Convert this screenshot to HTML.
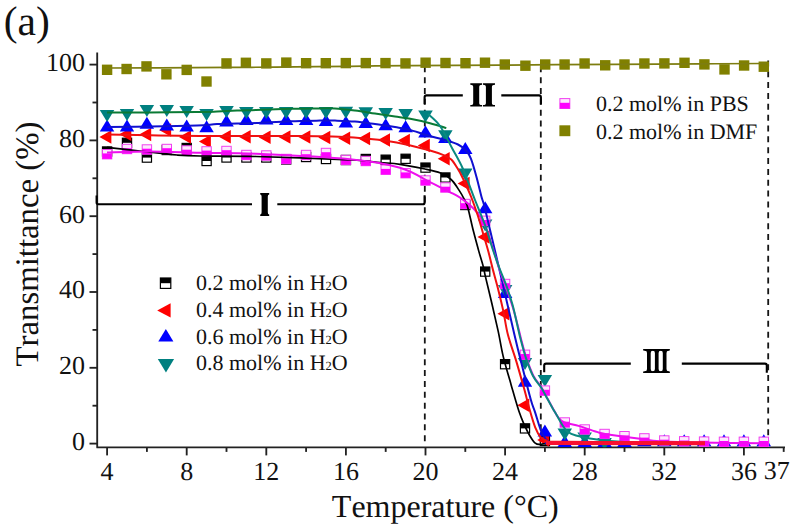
<!DOCTYPE html>
<html><head><meta charset="utf-8"><style>
html,body{margin:0;padding:0;background:#fff;}
body{width:796px;height:531px;overflow:hidden;position:relative;font-family:"Liberation Serif",serif;color:#111;}
svg{position:absolute;left:0;top:0;font-kerning:none;text-rendering:geometricPrecision;}
text{font-kerning:none;}
.t{position:absolute;white-space:nowrap;line-height:1;}
</style></head><body>
<svg width="796" height="531" viewBox="0 0 796 531">
<g font-family="Liberation Serif" fill="#111">
<text x="3.8" y="34.6" font-size="41.5">(a)</text>
<g font-size="26" text-anchor="end">
<text x="85" y="71">100</text>
<text x="85" y="146.8">80</text>
<text x="85" y="222.6">60</text>
<text x="85" y="298.4">40</text>
<text x="85" y="374.2">20</text>
<text x="85" y="450">0</text>
</g>
<g font-size="26" text-anchor="middle">
<text x="107.1" y="480.3">4</text>
<text x="186.7" y="480.3">8</text>
<text x="266.3" y="480.3">12</text>
<text x="345.9" y="480.3">16</text>
<text x="425.5" y="480.3">20</text>
<text x="505.1" y="480.3">24</text>
<text x="584.7" y="480.3">28</text>
<text x="664.3" y="480.3">32</text>
<text x="744" y="480.3">36</text>
<text x="776.7" y="478.6">37</text>
</g>
<text x="445.3" y="517" font-size="32" text-anchor="middle">Temperature (°C)</text>
<text transform="translate(37.7,244) rotate(-90)" font-size="32.8" text-anchor="middle">Transmittance (%)</text>
<g font-size="22">
<text x="596" y="111.3">0.2 mol% in PBS</text>
<text x="596" y="138.6">0.2 mol% in DMF</text>
<text x="196" y="290.1">0.2 mol% in H<tspan font-size="12.5">2</tspan>O</text>
<text x="196" y="316.8">0.4 mol% in H<tspan font-size="12.5">2</tspan>O</text>
<text x="196" y="343.5">0.6 mol% in H<tspan font-size="12.5">2</tspan>O</text>
<text x="196" y="370.2">0.8 mol% in H<tspan font-size="12.5">2</tspan>O</text>
</g>
</g>
<g stroke="#222" stroke-width="1.85" fill="none" stroke-linejoin="round">
<path d="M97.2,52.5 V447.4 H785"/>
<path d="M89.5,443.6 H97"/>
<path d="M89.5,367.8 H97"/>
<path d="M89.5,292.0 H97"/>
<path d="M89.5,216.2 H97"/>
<path d="M89.5,140.4 H97"/>
<path d="M89.5,64.6 H97"/>
<path d="M92.5,405.7 H97"/>
<path d="M92.5,329.9 H97"/>
<path d="M92.5,254.1 H97"/>
<path d="M92.5,178.3 H97"/>
<path d="M92.5,102.5 H97"/>
<path d="M107.1,447.4 V455.4"/>
<path d="M146.9,447.4 V451.9"/>
<path d="M186.7,447.4 V455.4"/>
<path d="M226.5,447.4 V451.9"/>
<path d="M266.3,447.4 V455.4"/>
<path d="M306.1,447.4 V451.9"/>
<path d="M345.9,447.4 V455.4"/>
<path d="M385.7,447.4 V451.9"/>
<path d="M425.5,447.4 V455.4"/>
<path d="M465.3,447.4 V451.9"/>
<path d="M505.1,447.4 V455.4"/>
<path d="M544.9,447.4 V451.9"/>
<path d="M584.7,447.4 V455.4"/>
<path d="M624.5,447.4 V451.9"/>
<path d="M664.3,447.4 V455.4"/>
<path d="M704.1,447.4 V451.9"/>
<path d="M743.9,447.4 V455.4"/>
<path d="M783.7,447.4 V451.9"/>
</g>
<g stroke="#151515" stroke-width="1.8" stroke-dasharray="6,4.85" fill="none">
<path d="M424.8,66.3 V446"/>
<path d="M540.8,66.3 V446"/>
<path d="M768.2,60.4 V446"/>
</g>
<g stroke="#000" stroke-width="2.1" fill="none">
<path d="M96.6,195.5 V202.5 Q96.6,204.2 98.5,204.2 H252"/><path d="M277.3,204.2 H422.8 Q424.6,204.2 424.6,202.4 V195.2"/>
<path d="M424.6,104.2 V97.3 Q424.6,95.4 426.5,95.4 H462.8"/><path d="M501.3,95.4 H539 Q540.9,95.4 540.9,97.3 V104.4"/>
<path d="M544.2,372.3 V365.5 Q544.2,363.6 546.1,363.6 H630.8"/><path d="M681.8,363.6 H764.9 Q766.8,363.6 766.8,365.5 V372.7"/>
</g>
<path d="M260.2,192.9 H269.2 V194.4 Q267.8,194.4 267.8,196.6 V212.20000000000002 Q267.8,214.4 269.2,214.4 V215.9 H260.2 V214.4 Q261.6,214.4 261.6,212.20000000000002 V196.6 Q261.6,194.4 260.2,194.4 Z" fill="#000"/>
<path d="M470.3,83.2 H482.1 V84.7 Q479.2,84.7 479.2,86.9 V102.89999999999999 Q479.2,105.1 482.1,105.1 V106.6 H470.3 V105.1 Q473.2,105.1 473.2,102.89999999999999 V86.9 Q473.2,84.7 470.3,84.7 Z" fill="#000"/>
<path d="M483.0,83.2 H495.0 V84.7 Q491.9,84.7 491.9,86.9 V102.89999999999999 Q491.9,105.1 495.0,105.1 V106.6 H483.0 V105.1 Q485.9,105.1 485.9,102.89999999999999 V86.9 Q485.9,84.7 483.0,84.7 Z" fill="#000"/>
<path d="M643,349 H670 L669.5,350.7 H643.5 Z M643.5,371.3 H669.5 L670,373 H643 Z" fill="#000"/>
<path d="M645,349 H652.7 V350.7 Q650.7,350.7 650.7,352.9 V369.1 Q650.7,371.3 652.7,371.3 V373 H645 V371.3 Q647,371.3 647,369.1 V352.9 Q647,350.7 645,350.7 Z" fill="#000"/>
<path d="M652.9,349 H660.6 V350.7 Q658.6,350.7 658.6,352.9 V369.1 Q658.6,371.3 660.6,371.3 V373 H652.9 V371.3 Q654.9,371.3 654.9,369.1 V352.9 Q654.9,350.7 652.9,350.7 Z" fill="#000"/>
<path d="M660.8,349 H668.5 V350.7 Q666.5,350.7 666.5,352.9 V369.1 Q666.5,371.3 668.5,371.3 V373 H660.8 V371.3 Q662.8,371.3 662.8,369.1 V352.9 Q662.8,350.7 660.8,350.7 Z" fill="#000"/>
<defs><clipPath id="pa"><rect x="97" y="50" width="690" height="397.2"/></clipPath></defs>
<g clip-path="url(#pa)">
<rect x="102.5" y="146.9" width="9.2" height="9.2" fill="#fff" stroke="#000" stroke-width="1.2"/><rect x="102.5" y="146.9" width="9.2" height="4.6" fill="#000"/>
<rect x="122.4" y="138.2" width="9.2" height="9.2" fill="#fff" stroke="#000" stroke-width="1.2"/><rect x="122.4" y="138.2" width="9.2" height="4.6" fill="#000"/>
<rect x="142.3" y="153.0" width="9.2" height="9.2" fill="#fff" stroke="#000" stroke-width="1.2"/><rect x="142.3" y="153.0" width="9.2" height="4.6" fill="#000"/>
<rect x="162.2" y="145.4" width="9.2" height="9.2" fill="#fff" stroke="#000" stroke-width="1.2"/><rect x="162.2" y="145.4" width="9.2" height="4.6" fill="#000"/>
<rect x="182.1" y="143.4" width="9.2" height="9.2" fill="#fff" stroke="#000" stroke-width="1.2"/><rect x="182.1" y="143.4" width="9.2" height="4.6" fill="#000"/>
<rect x="202.0" y="156.4" width="9.2" height="9.2" fill="#fff" stroke="#000" stroke-width="1.2"/><rect x="202.0" y="156.4" width="9.2" height="4.6" fill="#000"/>
<rect x="221.9" y="152.9" width="9.2" height="9.2" fill="#fff" stroke="#000" stroke-width="1.2"/><rect x="221.9" y="152.9" width="9.2" height="4.6" fill="#000"/>
<rect x="241.8" y="152.9" width="9.2" height="9.2" fill="#fff" stroke="#000" stroke-width="1.2"/><rect x="241.8" y="152.9" width="9.2" height="4.6" fill="#000"/>
<rect x="261.7" y="152.9" width="9.2" height="9.2" fill="#fff" stroke="#000" stroke-width="1.2"/><rect x="261.7" y="152.9" width="9.2" height="4.6" fill="#000"/>
<rect x="281.6" y="154.9" width="9.2" height="9.2" fill="#fff" stroke="#000" stroke-width="1.2"/><rect x="281.6" y="154.9" width="9.2" height="4.6" fill="#000"/>
<rect x="301.5" y="152.4" width="9.2" height="9.2" fill="#fff" stroke="#000" stroke-width="1.2"/><rect x="301.5" y="152.4" width="9.2" height="4.6" fill="#000"/>
<rect x="321.4" y="154.4" width="9.2" height="9.2" fill="#fff" stroke="#000" stroke-width="1.2"/><rect x="321.4" y="154.4" width="9.2" height="4.6" fill="#000"/>
<rect x="341.3" y="155.4" width="9.2" height="9.2" fill="#fff" stroke="#000" stroke-width="1.2"/><rect x="341.3" y="155.4" width="9.2" height="4.6" fill="#000"/>
<rect x="361.2" y="154.4" width="9.2" height="9.2" fill="#fff" stroke="#000" stroke-width="1.2"/><rect x="361.2" y="154.4" width="9.2" height="4.6" fill="#000"/>
<rect x="381.1" y="155.1" width="9.2" height="9.2" fill="#fff" stroke="#000" stroke-width="1.2"/><rect x="381.1" y="155.1" width="9.2" height="4.6" fill="#000"/>
<rect x="401.0" y="154.2" width="9.2" height="9.2" fill="#fff" stroke="#000" stroke-width="1.2"/><rect x="401.0" y="154.2" width="9.2" height="4.6" fill="#000"/>
<rect x="420.9" y="163.0" width="9.2" height="9.2" fill="#fff" stroke="#000" stroke-width="1.2"/><rect x="420.9" y="163.0" width="9.2" height="4.6" fill="#000"/>
<rect x="440.8" y="172.9" width="9.2" height="9.2" fill="#fff" stroke="#000" stroke-width="1.2"/><rect x="440.8" y="172.9" width="9.2" height="4.6" fill="#000"/>
<rect x="460.7" y="200.4" width="9.2" height="9.2" fill="#fff" stroke="#000" stroke-width="1.2"/><rect x="460.7" y="200.4" width="9.2" height="4.6" fill="#000"/>
<rect x="480.6" y="267.0" width="9.2" height="9.2" fill="#fff" stroke="#000" stroke-width="1.2"/><rect x="480.6" y="267.0" width="9.2" height="4.6" fill="#000"/>
<rect x="500.5" y="359.6" width="9.2" height="9.2" fill="#fff" stroke="#000" stroke-width="1.2"/><rect x="500.5" y="359.6" width="9.2" height="4.6" fill="#000"/>
<rect x="520.4" y="423.8" width="9.2" height="9.2" fill="#fff" stroke="#000" stroke-width="1.2"/><rect x="520.4" y="423.8" width="9.2" height="4.6" fill="#000"/>
<rect x="540.3" y="436.4" width="9.2" height="9.2" fill="#fff" stroke="#000" stroke-width="1.2"/><rect x="540.3" y="436.4" width="9.2" height="4.6" fill="#000"/>
<polygon points="99.4,137.0 111.4,130.2 111.4,143.8" fill="#ff0000"/>
<polygon points="119.3,134.3 131.3,127.6 131.3,141.1" fill="#ff0000"/>
<polygon points="139.2,134.6 151.2,127.8 151.2,141.3" fill="#ff0000"/>
<polygon points="159.1,130.0 171.1,123.2 171.1,136.8" fill="#ff0000"/>
<polygon points="179.0,137.0 191.0,130.2 191.0,143.8" fill="#ff0000"/>
<polygon points="198.9,141.5 210.9,134.8 210.9,148.2" fill="#ff0000"/>
<polygon points="218.8,136.8 230.8,130.1 230.8,143.6" fill="#ff0000"/>
<polygon points="238.7,136.7 250.7,129.9 250.7,143.4" fill="#ff0000"/>
<polygon points="258.6,137.3 270.6,130.6 270.6,144.1" fill="#ff0000"/>
<polygon points="278.5,137.0 290.5,130.2 290.5,143.8" fill="#ff0000"/>
<polygon points="298.4,137.0 310.4,130.2 310.4,143.8" fill="#ff0000"/>
<polygon points="318.3,137.5 330.3,130.8 330.3,144.2" fill="#ff0000"/>
<polygon points="338.2,138.2 350.2,131.4 350.2,144.9" fill="#ff0000"/>
<polygon points="358.1,138.5 370.1,131.8 370.1,145.2" fill="#ff0000"/>
<polygon points="378.0,139.9 390.0,133.2 390.0,146.7" fill="#ff0000"/>
<polygon points="397.9,140.5 409.9,133.8 409.9,147.2" fill="#ff0000"/>
<polygon points="417.8,145.6 429.8,138.8 429.8,152.3" fill="#ff0000"/>
<polygon points="437.7,158.8 449.7,152.1 449.7,165.6" fill="#ff0000"/>
<polygon points="457.6,183.5 469.6,176.8 469.6,190.2" fill="#ff0000"/>
<polygon points="477.5,237.0 489.5,230.2 489.5,243.8" fill="#ff0000"/>
<polygon points="497.4,313.8 509.4,307.1 509.4,320.6" fill="#ff0000"/>
<polygon points="517.3,405.3 529.3,398.6 529.3,412.1" fill="#ff0000"/>
<polygon points="537.2,440.0 549.2,433.2 549.2,446.8" fill="#ff0000"/>
<polygon points="99.8,131.6 114.3,131.6 107.1,119.6" fill="#0000ff"/>
<polygon points="119.8,131.4 134.2,131.4 127.0,119.4" fill="#0000ff"/>
<polygon points="139.6,128.7 154.1,128.7 146.9,116.7" fill="#0000ff"/>
<polygon points="159.5,130.4 174.0,130.4 166.8,118.4" fill="#0000ff"/>
<polygon points="179.4,131.4 193.9,131.4 186.7,119.4" fill="#0000ff"/>
<polygon points="199.3,132.3 213.8,132.3 206.6,120.3" fill="#0000ff"/>
<polygon points="219.2,126.6 233.8,126.6 226.5,114.6" fill="#0000ff"/>
<polygon points="239.1,125.1 253.6,125.1 246.4,113.1" fill="#0000ff"/>
<polygon points="259.0,124.5 273.5,124.5 266.3,112.5" fill="#0000ff"/>
<polygon points="278.9,125.0 293.4,125.0 286.2,113.0" fill="#0000ff"/>
<polygon points="298.9,125.0 313.4,125.0 306.1,113.0" fill="#0000ff"/>
<polygon points="318.8,126.0 333.2,126.0 326.0,114.0" fill="#0000ff"/>
<polygon points="338.6,127.6 353.1,127.6 345.9,115.6" fill="#0000ff"/>
<polygon points="358.5,128.1 373.0,128.1 365.8,116.1" fill="#0000ff"/>
<polygon points="378.4,130.2 392.9,130.2 385.7,118.2" fill="#0000ff"/>
<polygon points="398.4,132.2 412.9,132.2 405.6,120.2" fill="#0000ff"/>
<polygon points="418.2,137.5 432.8,137.5 425.5,125.5" fill="#0000ff"/>
<polygon points="438.1,143.0 452.6,143.0 445.4,131.0" fill="#0000ff"/>
<polygon points="458.0,154.0 472.5,154.0 465.3,142.0" fill="#0000ff"/>
<polygon points="477.9,213.2 492.4,213.2 485.2,201.2" fill="#0000ff"/>
<polygon points="497.9,298.0 512.4,298.0 505.1,286.0" fill="#0000ff"/>
<polygon points="517.8,386.7 532.2,386.7 525.0,374.7" fill="#0000ff"/>
<polygon points="537.6,436.5 552.1,436.5 544.9,424.5" fill="#0000ff"/>
<polygon points="557.5,447.0 572.0,447.0 564.8,435.0" fill="#0000ff"/>
<polygon points="577.4,447.0 591.9,447.0 584.7,435.0" fill="#0000ff"/>
<polygon points="597.3,447.0 611.8,447.0 604.6,435.0" fill="#0000ff"/>
<polygon points="617.2,447.0 631.8,447.0 624.5,435.0" fill="#0000ff"/>
<polygon points="637.1,446.2 651.6,446.2 644.4,434.2" fill="#0000ff"/>
<polygon points="657.0,446.2 671.5,446.2 664.3,434.2" fill="#0000ff"/>
<polygon points="676.9,446.2 691.4,446.2 684.2,434.2" fill="#0000ff"/>
<polygon points="696.9,446.2 711.4,446.2 704.1,434.2" fill="#0000ff"/>
<polygon points="716.8,446.2 731.2,446.2 724.0,434.2" fill="#0000ff"/>
<polygon points="736.6,446.2 751.1,446.2 743.9,434.2" fill="#0000ff"/>
<polygon points="756.5,446.2 771.0,446.2 763.8,434.2" fill="#0000ff"/>
<polygon points="99.8,110.0 114.3,110.0 107.1,122.0" fill="#008080"/>
<polygon points="119.8,109.0 134.2,109.0 127.0,121.0" fill="#008080"/>
<polygon points="139.6,105.0 154.1,105.0 146.9,117.0" fill="#008080"/>
<polygon points="159.5,105.0 174.0,105.0 166.8,117.0" fill="#008080"/>
<polygon points="179.4,106.0 193.9,106.0 186.7,118.0" fill="#008080"/>
<polygon points="199.3,109.0 213.8,109.0 206.6,121.0" fill="#008080"/>
<polygon points="219.2,106.0 233.8,106.0 226.5,118.0" fill="#008080"/>
<polygon points="239.1,107.0 253.6,107.0 246.4,119.0" fill="#008080"/>
<polygon points="259.0,107.0 273.5,107.0 266.3,119.0" fill="#008080"/>
<polygon points="278.9,107.0 293.4,107.0 286.2,119.0" fill="#008080"/>
<polygon points="298.9,107.0 313.4,107.0 306.1,119.0" fill="#008080"/>
<polygon points="318.8,107.0 333.2,107.0 326.0,119.0" fill="#008080"/>
<polygon points="338.6,106.8 353.1,106.8 345.9,118.8" fill="#008080"/>
<polygon points="358.5,107.3 373.0,107.3 365.8,119.3" fill="#008080"/>
<polygon points="378.4,108.0 392.9,108.0 385.7,120.0" fill="#008080"/>
<polygon points="398.4,109.0 412.9,109.0 405.6,121.0" fill="#008080"/>
<polygon points="418.2,110.4 432.8,110.4 425.5,122.4" fill="#008080"/>
<polygon points="438.1,130.3 452.6,130.3 445.4,142.3" fill="#008080"/>
<polygon points="458.0,168.5 472.5,168.5 465.3,180.5" fill="#008080"/>
<polygon points="477.9,219.6 492.4,219.6 485.2,231.6" fill="#008080"/>
<polygon points="497.9,285.0 512.4,285.0 505.1,297.0" fill="#008080"/>
<polygon points="517.8,358.0 532.2,358.0 525.0,370.0" fill="#008080"/>
<polygon points="537.6,375.0 552.1,375.0 544.9,387.0" fill="#008080"/>
<polygon points="557.5,428.5 572.0,428.5 564.8,440.5" fill="#008080"/>
<polygon points="577.4,432.5 591.9,432.5 584.7,444.5" fill="#008080"/>
<polygon points="597.3,438.0 611.8,438.0 604.6,450.0" fill="#008080"/>
<rect x="102.4" y="149.5" width="9.4" height="9.4" fill="#fde8fd" stroke="#f040f0" stroke-width="1"/><rect x="102.4" y="153.4" width="9.4" height="5.5" fill="#ff00ff"/>
<rect x="122.3" y="144.3" width="9.4" height="9.4" fill="#fde8fd" stroke="#f040f0" stroke-width="1"/><rect x="122.3" y="148.2" width="9.4" height="5.5" fill="#ff00ff"/>
<rect x="142.2" y="144.8" width="9.4" height="9.4" fill="#fde8fd" stroke="#f040f0" stroke-width="1"/><rect x="142.2" y="148.7" width="9.4" height="5.5" fill="#ff00ff"/>
<rect x="162.1" y="144.3" width="9.4" height="9.4" fill="#fde8fd" stroke="#f040f0" stroke-width="1"/><rect x="162.1" y="148.2" width="9.4" height="5.5" fill="#ff00ff"/>
<rect x="182.0" y="145.8" width="9.4" height="9.4" fill="#fde8fd" stroke="#f040f0" stroke-width="1"/><rect x="182.0" y="149.7" width="9.4" height="5.5" fill="#ff00ff"/>
<rect x="201.9" y="146.7" width="9.4" height="9.4" fill="#fde8fd" stroke="#f040f0" stroke-width="1"/><rect x="201.9" y="150.6" width="9.4" height="5.5" fill="#ff00ff"/>
<rect x="221.8" y="146.3" width="9.4" height="9.4" fill="#fde8fd" stroke="#f040f0" stroke-width="1"/><rect x="221.8" y="150.2" width="9.4" height="5.5" fill="#ff00ff"/>
<rect x="241.7" y="150.3" width="9.4" height="9.4" fill="#fde8fd" stroke="#f040f0" stroke-width="1"/><rect x="241.7" y="154.2" width="9.4" height="5.5" fill="#ff00ff"/>
<rect x="261.6" y="150.8" width="9.4" height="9.4" fill="#fde8fd" stroke="#f040f0" stroke-width="1"/><rect x="261.6" y="154.7" width="9.4" height="5.5" fill="#ff00ff"/>
<rect x="281.5" y="154.3" width="9.4" height="9.4" fill="#fde8fd" stroke="#f040f0" stroke-width="1"/><rect x="281.5" y="158.2" width="9.4" height="5.5" fill="#ff00ff"/>
<rect x="301.4" y="150.3" width="9.4" height="9.4" fill="#fde8fd" stroke="#f040f0" stroke-width="1"/><rect x="301.4" y="154.2" width="9.4" height="5.5" fill="#ff00ff"/>
<rect x="321.3" y="148.3" width="9.4" height="9.4" fill="#fde8fd" stroke="#f040f0" stroke-width="1"/><rect x="321.3" y="152.2" width="9.4" height="5.5" fill="#ff00ff"/>
<rect x="341.2" y="155.3" width="9.4" height="9.4" fill="#fde8fd" stroke="#f040f0" stroke-width="1"/><rect x="341.2" y="159.2" width="9.4" height="5.5" fill="#ff00ff"/>
<rect x="361.1" y="156.3" width="9.4" height="9.4" fill="#fde8fd" stroke="#f040f0" stroke-width="1"/><rect x="361.1" y="160.2" width="9.4" height="5.5" fill="#ff00ff"/>
<rect x="381.0" y="165.0" width="9.4" height="9.4" fill="#fde8fd" stroke="#f040f0" stroke-width="1"/><rect x="381.0" y="168.9" width="9.4" height="5.5" fill="#ff00ff"/>
<rect x="400.9" y="168.5" width="9.4" height="9.4" fill="#fde8fd" stroke="#f040f0" stroke-width="1"/><rect x="400.9" y="172.4" width="9.4" height="5.5" fill="#ff00ff"/>
<rect x="420.8" y="175.8" width="9.4" height="9.4" fill="#fde8fd" stroke="#f040f0" stroke-width="1"/><rect x="420.8" y="179.7" width="9.4" height="5.5" fill="#ff00ff"/>
<rect x="440.7" y="182.8" width="9.4" height="9.4" fill="#fde8fd" stroke="#f040f0" stroke-width="1"/><rect x="440.7" y="186.7" width="9.4" height="5.5" fill="#ff00ff"/>
<rect x="460.6" y="199.3" width="9.4" height="9.4" fill="#fde8fd" stroke="#f040f0" stroke-width="1"/><rect x="460.6" y="203.2" width="9.4" height="5.5" fill="#ff00ff"/>
<rect x="480.5" y="216.1" width="9.4" height="9.4" fill="#fde8fd" stroke="#f040f0" stroke-width="1"/><rect x="480.5" y="220.0" width="9.4" height="5.5" fill="#ff00ff"/>
<rect x="500.4" y="279.3" width="9.4" height="9.4" fill="#fde8fd" stroke="#f040f0" stroke-width="1"/><rect x="500.4" y="283.2" width="9.4" height="5.5" fill="#ff00ff"/>
<rect x="520.3" y="350.1" width="9.4" height="9.4" fill="#fde8fd" stroke="#f040f0" stroke-width="1"/><rect x="520.3" y="354.0" width="9.4" height="5.5" fill="#ff00ff"/>
<rect x="540.2" y="385.9" width="9.4" height="9.4" fill="#fde8fd" stroke="#f040f0" stroke-width="1"/><rect x="540.2" y="389.8" width="9.4" height="5.5" fill="#ff00ff"/>
<rect x="560.1" y="417.8" width="9.4" height="9.4" fill="#fde8fd" stroke="#f040f0" stroke-width="1"/><rect x="560.1" y="421.7" width="9.4" height="5.5" fill="#ff00ff"/>
<rect x="580.0" y="424.8" width="9.4" height="9.4" fill="#fde8fd" stroke="#f040f0" stroke-width="1"/><rect x="580.0" y="428.7" width="9.4" height="5.5" fill="#ff00ff"/>
<rect x="599.9" y="429.3" width="9.4" height="9.4" fill="#fde8fd" stroke="#f040f0" stroke-width="1"/><rect x="599.9" y="433.2" width="9.4" height="5.5" fill="#ff00ff"/>
<rect x="619.8" y="431.5" width="9.4" height="9.4" fill="#fde8fd" stroke="#f040f0" stroke-width="1"/><rect x="619.8" y="435.4" width="9.4" height="5.5" fill="#ff00ff"/>
<rect x="639.7" y="433.7" width="9.4" height="9.4" fill="#fde8fd" stroke="#f040f0" stroke-width="1"/><rect x="639.7" y="437.6" width="9.4" height="5.5" fill="#ff00ff"/>
<rect x="659.6" y="435.8" width="9.4" height="9.4" fill="#fde8fd" stroke="#f040f0" stroke-width="1"/><rect x="659.6" y="439.7" width="9.4" height="5.5" fill="#ff00ff"/>
<rect x="679.5" y="436.6" width="9.4" height="9.4" fill="#fde8fd" stroke="#f040f0" stroke-width="1"/><rect x="679.5" y="440.5" width="9.4" height="5.5" fill="#ff00ff"/>
<rect x="699.4" y="436.9" width="9.4" height="9.4" fill="#fde8fd" stroke="#f040f0" stroke-width="1"/><rect x="699.4" y="440.8" width="9.4" height="5.5" fill="#ff00ff"/>
<rect x="719.3" y="437.1" width="9.4" height="9.4" fill="#fde8fd" stroke="#f040f0" stroke-width="1"/><rect x="719.3" y="441.0" width="9.4" height="5.5" fill="#ff00ff"/>
<rect x="739.2" y="437.1" width="9.4" height="9.4" fill="#fde8fd" stroke="#f040f0" stroke-width="1"/><rect x="739.2" y="441.0" width="9.4" height="5.5" fill="#ff00ff"/>
<rect x="759.1" y="437.1" width="9.4" height="9.4" fill="#fde8fd" stroke="#f040f0" stroke-width="1"/><rect x="759.1" y="441.0" width="9.4" height="5.5" fill="#ff00ff"/>
<rect x="101.9" y="64.6" width="10.4" height="10.4" fill="#808000"/>
<rect x="121.4" y="63.8" width="10.4" height="10.4" fill="#808000"/>
<rect x="141.3" y="61.2" width="10.4" height="10.4" fill="#808000"/>
<rect x="161.2" y="69.1" width="10.4" height="10.4" fill="#808000"/>
<rect x="181.5" y="64.7" width="10.4" height="10.4" fill="#808000"/>
<rect x="201.3" y="76.3" width="10.4" height="10.4" fill="#808000"/>
<rect x="221.3" y="58.2" width="10.4" height="10.4" fill="#808000"/>
<rect x="240.7" y="57.6" width="10.4" height="10.4" fill="#808000"/>
<rect x="261.1" y="58.2" width="10.4" height="10.4" fill="#808000"/>
<rect x="281.1" y="57.4" width="10.4" height="10.4" fill="#808000"/>
<rect x="300.9" y="58.0" width="10.4" height="10.4" fill="#808000"/>
<rect x="320.6" y="58.0" width="10.4" height="10.4" fill="#808000"/>
<rect x="340.6" y="57.9" width="10.4" height="10.4" fill="#808000"/>
<rect x="360.6" y="57.9" width="10.4" height="10.4" fill="#808000"/>
<rect x="380.3" y="57.9" width="10.4" height="10.4" fill="#808000"/>
<rect x="400.3" y="58.2" width="10.4" height="10.4" fill="#808000"/>
<rect x="420.4" y="57.5" width="10.4" height="10.4" fill="#808000"/>
<rect x="440.3" y="57.8" width="10.4" height="10.4" fill="#808000"/>
<rect x="460.3" y="58.0" width="10.4" height="10.4" fill="#808000"/>
<rect x="479.8" y="57.5" width="10.4" height="10.4" fill="#808000"/>
<rect x="499.6" y="59.3" width="10.4" height="10.4" fill="#808000"/>
<rect x="520.2" y="60.5" width="10.4" height="10.4" fill="#808000"/>
<rect x="540.0" y="59.3" width="10.4" height="10.4" fill="#808000"/>
<rect x="559.4" y="59.3" width="10.4" height="10.4" fill="#808000"/>
<rect x="579.4" y="58.3" width="10.4" height="10.4" fill="#808000"/>
<rect x="600.0" y="60.1" width="10.4" height="10.4" fill="#808000"/>
<rect x="619.3" y="59.3" width="10.4" height="10.4" fill="#808000"/>
<rect x="639.2" y="58.3" width="10.4" height="10.4" fill="#808000"/>
<rect x="659.2" y="58.2" width="10.4" height="10.4" fill="#808000"/>
<rect x="679.3" y="57.6" width="10.4" height="10.4" fill="#808000"/>
<rect x="699.2" y="59.2" width="10.4" height="10.4" fill="#808000"/>
<rect x="719.3" y="64.2" width="10.4" height="10.4" fill="#808000"/>
<rect x="738.9" y="60.3" width="10.4" height="10.4" fill="#808000"/>
<rect x="758.6" y="61.5" width="10.4" height="10.4" fill="#808000"/>
<path d="M107.0,68.0 C115.8,68.0 139.5,67.9 160.0,67.8 C180.5,67.7 210.8,67.5 230.0,67.4 C249.2,67.3 255.0,67.3 275.0,67.1 C295.0,66.9 327.5,66.5 350.0,66.3 C372.5,66.0 385.0,65.8 410.0,65.6 C435.0,65.4 465.8,65.3 500.0,65.1 C534.2,64.9 581.7,64.5 615.0,64.3 C648.3,64.1 674.8,63.9 700.0,63.8 C725.2,63.7 755.0,63.5 766.0,63.5" stroke="#7d7d10" stroke-width="1.7" fill="none"/>
<path d="M107.0,147.3 C112.5,147.9 128.3,149.7 140.0,151.0 C151.7,152.3 167.0,154.2 177.0,155.0 C187.0,155.8 186.8,155.8 200.0,156.0 C213.2,156.2 231.0,155.8 256.0,156.5 C281.0,157.2 329.3,159.0 350.0,160.0 C370.7,161.0 371.7,161.8 380.0,162.5 C388.3,163.2 392.5,163.2 400.0,164.3 C407.5,165.4 418.2,167.6 425.0,169.0 C431.8,170.4 436.1,171.2 440.5,173.0 C444.9,174.8 448.0,176.7 451.1,179.5 C454.2,182.3 456.8,186.8 459.0,190.1 C461.2,193.4 462.8,196.3 464.3,199.3 C465.8,202.3 466.4,202.7 467.9,207.9 C469.4,213.1 471.4,223.3 473.2,230.3 C475.0,237.3 476.9,244.2 478.5,250.1 C480.1,256.0 481.9,261.4 483.1,265.9 C484.3,270.4 484.0,270.5 485.5,276.9 C487.0,283.3 490.0,295.5 492.1,304.5 C494.2,313.5 496.2,322.2 498.1,330.9 C500.0,339.5 501.2,348.2 503.2,356.4 C505.1,364.6 508.2,374.5 509.8,380.1 C511.4,385.7 511.0,384.6 512.6,390.0 C514.2,395.4 517.5,407.0 519.4,412.6 C521.3,418.2 522.2,420.1 523.9,423.9 C525.6,427.7 527.6,432.0 529.5,435.2 C531.4,438.4 533.3,441.6 535.2,443.1 C537.1,444.7 536.7,444.4 540.8,444.5 C544.9,444.6 532.6,443.7 560.0,443.5 C587.4,443.3 680.8,443.3 705.0,443.3" stroke="#000" stroke-width="1.7" fill="none"/>
<path d="M107.0,127.0 C114.2,126.9 135.0,126.8 150.0,126.6 C165.0,126.4 185.8,126.0 197.0,125.6 C208.2,125.2 210.3,124.4 217.0,124.1 C223.7,123.8 230.5,123.8 237.0,123.6 C243.5,123.4 247.2,123.5 256.0,123.1 C264.8,122.7 279.3,121.6 290.0,121.2 C300.7,120.8 312.5,120.7 320.0,120.6 C327.5,120.5 329.2,120.4 335.0,120.6 C340.8,120.8 348.3,121.0 355.0,121.6 C361.7,122.2 368.3,123.2 375.0,124.1 C381.7,125.0 389.3,126.2 395.0,127.1 C400.7,128.0 403.5,128.2 409.0,129.6 C414.5,131.0 422.0,133.8 428.0,135.5 C434.0,137.2 440.0,138.5 445.0,140.0 C450.0,141.5 454.5,142.8 458.0,144.5 C461.5,146.2 463.8,148.1 466.0,150.5 C468.2,152.9 469.2,154.3 471.0,158.8 C472.8,163.3 475.0,171.4 476.7,177.7 C478.4,184.0 480.0,191.1 481.4,196.5 C482.8,201.9 482.3,197.8 485.3,210.0 C488.3,222.2 494.6,249.2 499.5,270.0 C504.4,290.8 510.6,318.4 514.5,335.0 C518.4,351.6 520.3,358.7 523.0,369.5 C525.7,380.3 528.9,392.8 530.9,400.0 C532.9,407.2 533.4,407.1 535.2,412.6 C537.0,418.1 539.6,428.1 541.9,432.9 C544.1,437.7 545.7,439.8 548.7,441.5 C551.7,443.2 534.0,443.0 560.0,443.3 C586.0,443.6 680.8,443.3 705.0,443.3" stroke="#1010d0" stroke-width="2" fill="none"/>
<path d="M107.0,152.6 C114.2,152.4 134.5,151.5 150.0,151.5 C165.5,151.5 182.3,152.3 200.0,152.7 C217.7,153.1 231.0,152.7 256.0,153.8 C281.0,154.9 326.0,157.0 350.0,159.3 C374.0,161.6 386.7,164.0 400.0,167.8 C413.3,171.6 422.8,178.7 430.0,182.2 C437.2,185.7 438.8,186.6 443.2,188.8 C447.6,191.0 452.9,193.4 456.4,195.4 C459.9,197.4 461.4,198.4 464.3,200.6 C467.2,202.8 470.7,205.6 473.5,208.5 C476.3,211.4 478.8,214.4 481.0,218.0 C483.2,221.6 484.8,224.3 487.0,230.0 C489.2,235.7 491.8,245.2 494.0,252.0 C496.2,258.8 497.8,264.7 500.0,271.0 C502.2,277.3 504.8,283.8 507.0,290.0 C509.2,296.2 511.1,301.7 513.0,308.0 C514.9,314.3 517.0,322.6 518.3,327.7 C519.6,332.8 519.7,333.8 521.0,338.8 C522.3,343.8 524.2,351.4 526.3,357.6 C528.4,363.8 531.1,371.2 533.5,376.0 C535.9,380.8 539.0,383.6 540.8,386.3 C542.6,389.1 543.1,390.4 544.2,392.5 C545.3,394.6 546.2,396.2 547.6,398.8 C549.0,401.4 551.0,405.1 552.8,408.2 C554.6,411.3 556.4,415.3 558.4,417.7 C560.4,420.1 561.1,421.1 564.6,422.5 C568.1,423.9 573.7,424.4 579.5,426.1 C585.3,427.8 594.2,431.3 599.3,432.7 C604.4,434.1 603.2,433.7 610.0,434.7 C616.8,435.7 631.7,437.7 640.0,438.8 C648.3,439.9 650.0,440.6 660.0,441.2 C670.0,441.8 682.3,442.3 700.0,442.6 C717.7,442.9 755.0,443.1 766.0,443.2" stroke="#ee10ee" stroke-width="2" fill="none"/>
<path d="M107.0,112.5 C114.2,112.5 135.0,112.6 150.0,112.5 C165.0,112.4 185.8,112.2 197.0,112.1 C208.2,111.9 210.3,111.8 217.0,111.6 C223.7,111.3 230.5,110.9 237.0,110.6 C243.5,110.3 247.2,110.3 256.0,110.0 C264.8,109.7 279.3,109.1 290.0,108.8 C300.7,108.5 312.5,108.5 320.0,108.4 C327.5,108.4 329.2,108.1 335.0,108.5 C340.8,108.9 348.3,109.8 355.0,110.6 C361.7,111.4 368.3,112.6 375.0,113.6 C381.7,114.6 389.3,115.8 395.0,116.6 C400.7,117.4 403.2,117.5 409.0,118.6 C414.8,119.7 423.8,121.6 430.0,123.2 C436.2,124.8 443.6,127.3 446.3,128.1" stroke="#0a7a35" stroke-width="2" fill="none"/>
<path d="M428.0,114.0 C430.0,116.0 436.0,120.3 440.0,126.0 C444.0,131.7 448.2,140.8 452.0,148.0 C455.8,155.2 459.2,160.3 463.0,169.0 C466.8,177.7 471.3,190.7 475.0,200.0 C478.7,209.3 482.0,216.7 485.0,225.0 C488.0,233.3 490.6,242.9 493.0,250.0 C495.4,257.1 496.9,261.5 499.2,267.6 C501.5,273.7 504.5,280.2 506.7,286.5 C508.9,292.8 510.7,298.2 512.6,305.1 C514.5,312.0 516.6,322.1 517.9,327.7 C519.2,333.3 519.2,333.8 520.5,338.8 C521.8,343.8 523.7,351.4 525.8,357.6 C527.9,363.8 530.5,371.2 533.0,376.0 C535.5,380.8 538.7,383.8 540.5,386.5 C542.3,389.2 542.9,390.4 544.0,392.5 C545.1,394.6 546.0,396.2 547.4,398.8 C548.8,401.4 550.8,405.1 552.6,408.2 C554.4,411.3 556.5,414.7 558.2,417.7 C559.9,420.7 561.4,423.6 563.0,426.0 C564.6,428.4 565.8,430.4 568.0,432.0 C570.2,433.6 572.3,434.4 576.0,435.5 C579.7,436.6 584.3,437.6 590.0,438.5 C595.7,439.4 601.7,440.3 610.0,441.0 C618.3,441.7 624.2,442.2 640.0,442.5 C655.8,442.8 694.2,442.9 705.0,443.0" stroke="#0a8a80" stroke-width="2" fill="none"/>
<path d="M107.0,134.5 C114.2,134.6 134.5,135.1 150.0,135.3 C165.5,135.6 175.0,135.9 200.0,136.0 C225.0,136.1 274.3,135.8 300.0,136.0 C325.7,136.2 337.9,136.3 354.0,137.4 C370.1,138.5 383.9,140.2 396.6,142.4 C409.3,144.6 421.9,148.3 430.0,150.5 C438.1,152.7 441.4,154.3 445.0,155.8 C448.6,157.3 449.3,157.6 451.3,159.5 C453.3,161.4 455.1,164.5 457.0,167.5 C458.9,170.5 460.3,172.9 462.6,177.7 C464.9,182.5 468.5,190.2 471.0,196.5 C473.5,202.8 475.6,209.0 477.7,215.3 C479.8,221.6 481.5,228.1 483.3,234.2 C485.1,240.3 486.9,246.0 488.5,252.0 C490.1,258.0 491.3,263.4 493.0,270.0 C494.7,276.6 497.0,284.5 498.7,291.4 C500.4,298.2 501.8,303.8 503.3,311.1 C504.9,318.4 505.8,326.6 508.0,335.0 C510.2,343.4 513.7,352.6 516.4,361.6 C519.1,370.7 522.1,381.4 524.3,389.3 C526.5,397.2 527.7,402.9 529.5,409.2 C531.3,415.5 533.3,422.6 535.2,427.3 C537.1,432.0 538.9,435.2 540.8,437.4 C542.7,439.6 543.3,439.8 546.5,440.5 C549.7,441.2 533.6,441.4 560.0,441.8 C586.4,442.2 680.8,442.6 705.0,442.8" stroke="#f01010" stroke-width="2" fill="none"/>
<path d="M546,443 L705,443.2" stroke="#f81030" stroke-width="4" fill="none"/>
</g>
<rect x="559.9" y="98.6" width="9.9" height="9.9" fill="#fde8fd" stroke="#f040f0" stroke-width="1"/><rect x="559.9" y="102.8" width="9.9" height="5.7" fill="#ff00ff"/>
<rect x="559.4" y="125.3" width="10.9" height="10.9" fill="#808000"/>
<rect x="160.4" y="278.0" width="10.4" height="10.4" fill="#fff" stroke="#000" stroke-width="1.2"/><rect x="160.4" y="278.0" width="10.4" height="5.2" fill="#000"/>
<polygon points="157.2,310.4 170.6,303.3 170.6,317.5" fill="#ff0000"/>
<polygon points="158.3,341.4 173.4,341.4 165.85,328.9" fill="#0000ff"/>
<polygon points="157.8,359 174.1,359 165.95,372.6" fill="#008080"/>
</svg>
</body></html>
